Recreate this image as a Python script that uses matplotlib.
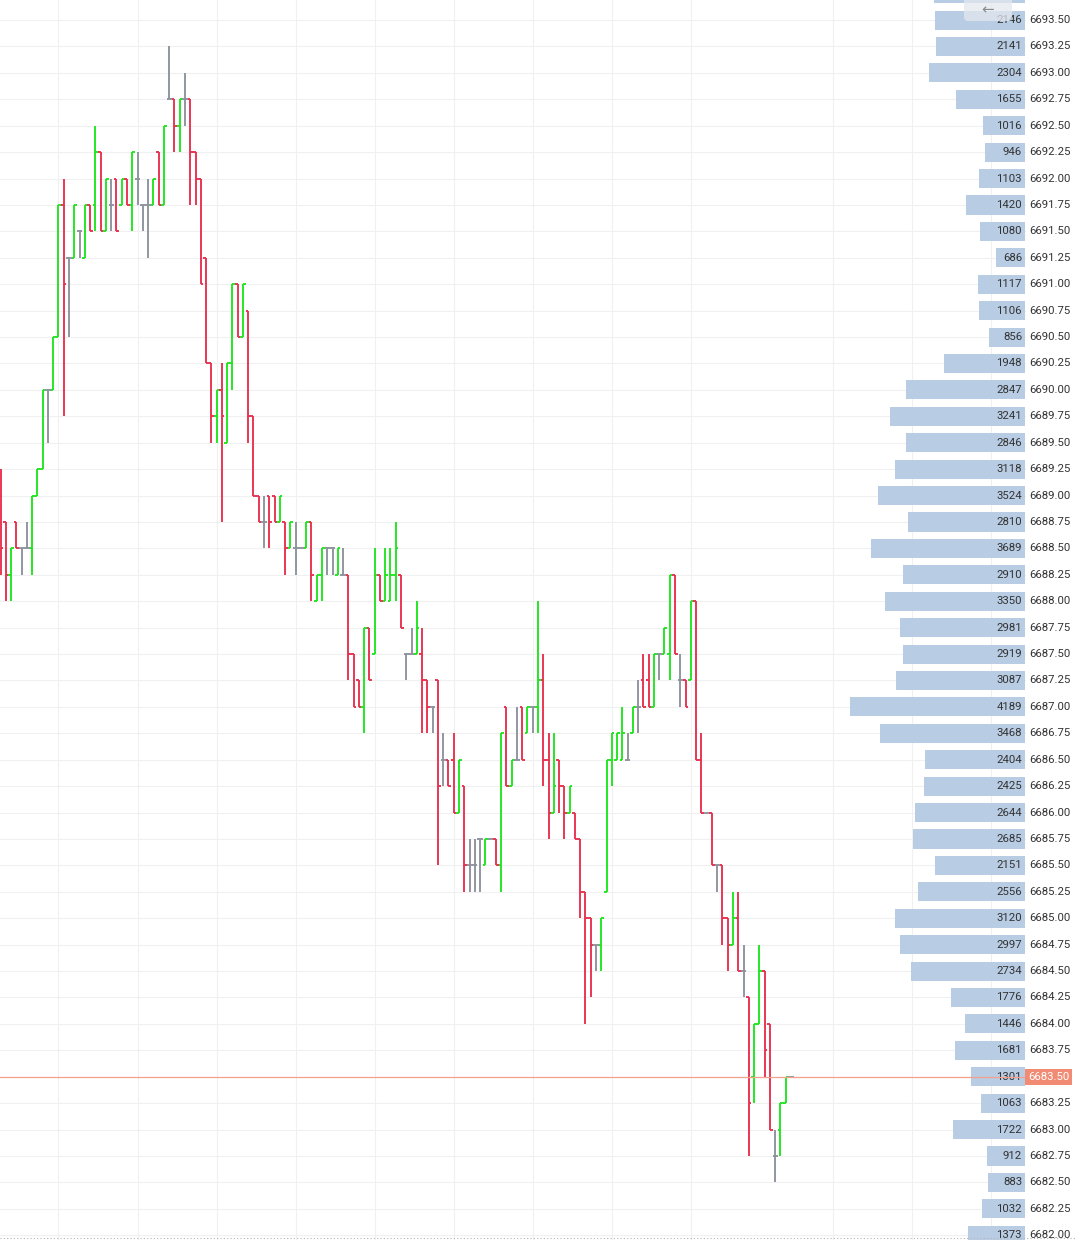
import matplotlib.pyplot as plt
from matplotlib.patches import FancyBboxPatch

# OHLC bars (one per column, oldest first)
opens = [6689.0, 6688.75, 6688.25, 6688.75, 6688.5, 6688.5, 6688.5, 6689.0, 6689.25, 6690.0,
         6690.0, 6690.5, 6691.75, 6691.25, 6691.25, 6691.5, 6691.25, 6691.75, 6691.75, 6692.25,
         6691.5, 6691.75, 6692.0, 6691.75, 6692.0, 6691.75, 6692.0, 6691.75, 6691.75, 6691.75,
         6692.25, 6691.75, 6692.75, 6692.75, 6692.5, 6692.75, 6692.75, 6692.25, 6692.0, 6691.25,
         6690.25, 6689.75, 6690.0, 6689.5, 6690.25, 6691.0, 6690.5, 6690.75, 6689.75, 6689.0,
         6688.75, 6689.0, 6689.0, 6688.75, 6688.75, 6688.5, 6688.5, 6688.5, 6688.5, 6688.75,
         6688.0, 6688.25, 6688.5, 6688.5, 6688.25, 6688.25, 6688.25, 6687.5, 6687.25, 6687.0,
         6687.75, 6687.5, 6688.25, 6688.0, 6688.0, 6688.25, 6688.25, 6687.5, 6687.5, 6687.5,
         6687.5, 6687.25, 6687.0, 6687.25, 6686.5, 6686.5, 6686.5, 6686.0, 6686.25, 6685.5,
         6685.5, 6685.75, 6685.5, 6685.75, 6685.75, 6685.5, 6687.0, 6686.25, 6686.5, 6687.0,
         6686.75, 6687.0, 6687.0, 6687.25, 6686.5, 6686.0, 6686.5, 6686.25, 6686.0, 6686.0,
         6685.75, 6685.25, 6685.0, 6684.75, 6684.75, 6685.25, 6686.5, 6686.5, 6686.5, 6686.5,
         6686.75, 6687.0, 6687.25, 6687.25, 6687.0, 6687.5, 6687.5, 6687.5, 6688.25, 6687.25,
         6687.25, 6687.25, 6688.0, 6686.5, 6686.0, 6686.0, 6685.5, 6685.5, 6685.0, 6684.75,
         6685.0, 6684.5, 6684.25, 6683.5, 6684.0, 6684.5, 6684.0, 6682.75, 6683.0, 6683.25,
         6683.5]
highs = [6689.25, 6688.75, 6688.5, 6688.75, 6688.5, 6688.75, 6689.0, 6689.25, 6690.0, 6690.0,
         6690.5, 6691.75, 6692.0, 6691.25, 6691.75, 6691.5, 6691.75, 6691.75, 6692.5, 6692.25,
         6692.0, 6692.0, 6692.0, 6692.0, 6692.0, 6692.25, 6692.25, 6691.75, 6692.0, 6692.0,
         6692.25, 6692.5, 6693.25, 6692.75, 6692.75, 6693.0, 6692.75, 6692.25, 6692.0, 6691.25,
         6690.25, 6690.0, 6690.25, 6690.25, 6691.0, 6691.0, 6691.0, 6690.75, 6689.75, 6689.0,
         6689.0, 6689.0, 6689.0, 6689.0, 6688.75, 6688.75, 6688.75, 6688.5, 6688.75, 6688.75,
         6688.25, 6688.5, 6688.5, 6688.5, 6688.5, 6688.5, 6688.25, 6687.5, 6687.25, 6687.75,
         6687.75, 6688.5, 6688.25, 6688.5, 6688.5, 6688.75, 6688.25, 6687.5, 6687.75, 6688.0,
         6687.75, 6687.25, 6687.0, 6687.25, 6686.75, 6686.5, 6686.75, 6686.5, 6686.25, 6685.75,
         6685.75, 6685.75, 6685.75, 6685.75, 6685.75, 6686.75, 6687.0, 6686.5, 6687.0, 6687.0,
         6687.0, 6687.0, 6688.0, 6687.5, 6686.75, 6686.75, 6686.5, 6686.25, 6686.25, 6686.0,
         6685.75, 6685.25, 6685.0, 6684.75, 6685.0, 6686.5, 6686.75, 6686.75, 6687.0, 6686.75,
         6687.0, 6687.25, 6687.5, 6687.5, 6687.5, 6687.5, 6687.75, 6688.25, 6688.25, 6687.5,
         6687.25, 6688.0, 6688.0, 6686.75, 6686.0, 6686.0, 6685.5, 6685.5, 6685.0, 6685.25,
         6685.25, 6684.75, 6684.25, 6684.0, 6684.75, 6684.5, 6684.0, 6683.0, 6683.25, 6683.5,
         6683.5]
lows = [6688.25, 6688.0, 6688.0, 6688.5, 6688.25, 6688.5, 6688.25, 6689.0, 6689.25, 6689.5,
        6690.0, 6690.5, 6689.75, 6690.5, 6691.25, 6691.25, 6691.25, 6691.5, 6691.5, 6691.5,
        6691.5, 6691.5, 6691.5, 6691.75, 6691.75, 6691.5, 6691.75, 6691.5, 6691.25, 6691.75,
        6691.75, 6691.75, 6692.75, 6692.25, 6692.25, 6692.5, 6691.75, 6691.75, 6691.0, 6690.25,
        6689.5, 6689.5, 6688.75, 6689.5, 6690.0, 6690.5, 6690.5, 6689.5, 6689.0, 6688.75,
        6688.5, 6688.5, 6688.75, 6688.75, 6688.25, 6688.5, 6688.25, 6688.5, 6688.5, 6688.0,
        6688.0, 6688.0, 6688.25, 6688.25, 6688.25, 6688.25, 6687.25, 6687.0, 6687.0, 6686.75,
        6687.25, 6687.5, 6688.0, 6688.0, 6688.0, 6688.0, 6687.75, 6687.25, 6687.5, 6687.5,
        6686.75, 6686.75, 6686.75, 6685.5, 6686.25, 6686.25, 6686.0, 6686.0, 6685.25, 6685.25,
        6685.25, 6685.25, 6685.5, 6685.75, 6685.5, 6685.25, 6686.25, 6686.25, 6686.5, 6686.5,
        6686.75, 6686.75, 6686.75, 6686.25, 6685.75, 6686.0, 6686.0, 6685.75, 6686.0, 6685.75,
        6685.0, 6684.0, 6684.25, 6684.5, 6684.5, 6685.25, 6686.25, 6686.5, 6686.5, 6686.5,
        6686.75, 6686.75, 6687.0, 6687.0, 6687.0, 6687.25, 6687.5, 6687.25, 6687.5, 6687.0,
        6687.0, 6687.25, 6686.5, 6686.0, 6686.0, 6685.5, 6685.25, 6684.75, 6684.5, 6684.75,
        6684.5, 6684.25, 6682.75, 6683.25, 6684.0, 6683.5, 6683.0, 6682.5, 6682.75, 6683.25,
        6683.5]
closes = [6688.5, 6688.25, 6688.5, 6688.5, 6688.5, 6688.5, 6689.0, 6689.25, 6690.0, 6690.0,
          6690.5, 6691.75, 6691.0, 6691.25, 6691.75, 6691.5, 6691.75, 6691.5, 6692.25, 6691.5,
          6692.0, 6691.75, 6691.5, 6692.0, 6691.75, 6692.25, 6692.0, 6691.75, 6691.75, 6692.0,
          6691.75, 6692.5, 6692.75, 6692.5, 6692.75, 6692.75, 6692.25, 6692.0, 6691.0, 6690.25,
          6689.75, 6690.0, 6689.75, 6690.25, 6691.0, 6690.5, 6691.0, 6689.75, 6689.0, 6688.75,
          6688.75, 6688.75, 6688.75, 6689.0, 6688.5, 6688.75, 6688.5, 6688.5, 6688.75, 6688.25,
          6688.25, 6688.5, 6688.5, 6688.5, 6688.5, 6688.25, 6687.5, 6687.0, 6687.0, 6687.75,
          6687.25, 6688.25, 6688.0, 6688.25, 6688.25, 6688.5, 6687.75, 6687.5, 6687.5, 6687.75,
          6687.25, 6687.0, 6687.0, 6686.25, 6686.5, 6686.25, 6686.0, 6686.5, 6685.5, 6685.5,
          6685.5, 6685.75, 6685.75, 6685.75, 6685.5, 6686.75, 6686.25, 6686.5, 6686.5, 6686.5,
          6687.0, 6687.0, 6687.25, 6686.5, 6686.0, 6686.25, 6686.25, 6686.0, 6686.25, 6685.75,
          6685.25, 6685.0, 6684.75, 6684.75, 6685.0, 6686.5, 6686.75, 6686.75, 6686.75, 6686.5,
          6687.0, 6687.0, 6687.0, 6687.0, 6687.5, 6687.5, 6687.75, 6688.25, 6687.5, 6687.25,
          6687.0, 6688.0, 6686.5, 6686.0, 6686.0, 6685.5, 6685.5, 6685.0, 6684.75, 6685.0,
          6684.5, 6684.5, 6683.25, 6684.0, 6684.5, 6683.75, 6683.0, 6682.75, 6683.25, 6683.5,
          6683.5]

# volume profile on the right
profile_prices = [6693.75, 6693.5, 6693.25, 6693.0, 6692.75, 6692.5, 6692.25, 6692.0,
                  6691.75, 6691.5, 6691.25, 6691.0, 6690.75, 6690.5, 6690.25, 6690.0,
                  6689.75, 6689.5, 6689.25, 6689.0, 6688.75, 6688.5, 6688.25, 6688.0,
                  6687.75, 6687.5, 6687.25, 6687.0, 6686.75, 6686.5, 6686.25, 6686.0,
                  6685.75, 6685.5, 6685.25, 6685.0, 6684.75, 6684.5, 6684.25, 6684.0,
                  6683.75, 6683.5, 6683.25, 6683.0, 6682.75, 6682.5, 6682.25, 6682.0]
profile_volumes = [2180, 2146, 2141, 2304, 1655, 1016, 946, 1103,
                   1420, 1080, 686, 1117, 1106, 856, 1948, 2847,
                   3241, 2846, 3118, 3524, 2810, 3689, 2910, 3350,
                   2981, 2919, 3087, 4189, 3468, 2404, 2425, 2644,
                   2685, 2151, 2556, 3120, 2997, 2734, 1776, 1446,
                   1681, 1301, 1063, 1722, 912, 883, 1032, 1373]
last_price = 6683.50

# vertical grid positions (bar index)
time_grid = [11, 26, 41, 56, 71, 86, 101, 116, 131, 158, 173, 188]

up_color = '#1fe51f'
down_color = '#e8304f'
flat_color = '#8d929c'
grid_color = '#f0f0f0'

y_bottom, y_top = 6681.955, 6693.69

fig = plt.figure(figsize=(10.75, 12.4), dpi=100)

ax = fig.add_axes([0, 0, 1, 1])
ax.set_xlim(-0.1, 203.9)
ax.set_ylim(y_bottom, y_top)
ax.axis('off')

for p in profile_prices:
    ax.axhline(p, xmax=1025 / 1075, color=grid_color, lw=0.8, zorder=0)
for g in time_grid:
    ax.axvline(g, color=grid_color, lw=0.8, zorder=0)

x = list(range(len(opens)))
colors = []
for o, c in zip(opens, closes):
    if c > o:
        colors.append(up_color)
    elif c < o:
        colors.append(down_color)
    else:
        colors.append(flat_color)

ax.vlines(x, lows, highs, colors=colors, lw=1.35, zorder=3)
ax.hlines(opens, [i - 0.5 for i in x], x, colors=colors, lw=1.35, zorder=3)
ax.hlines(closes, x, [i + 0.5 for i in x], colors=colors, lw=1.35, zorder=3)

# volume profile axes, x in pixels
ax2 = fig.add_axes([0, 0, 1, 1])
ax2.set_xlim(0, 1075)
ax2.set_ylim(y_bottom, y_top)
ax2.axis('off')
ax2.patch.set_alpha(0)

px_per_vol = 175 / 4189
right_edge = 1025
widths = [v * px_per_vol for v in profile_volumes]
lefts = [right_edge - w for w in widths]
ax2.barh(profile_prices, widths, left=lefts, height=0.18, color='#b8cce4', zorder=2)

for p, v in zip(profile_prices, profile_volumes):
    if p > y_top - 0.08:
        continue  # row is only partly visible, its labels sit above the top edge
    ax2.text(1022, p, str(v), ha='right', va='center', fontsize=8.2,
             family='Roboto', color='#333333', zorder=4)
    if p != last_price:
        ax2.text(1029, p, f'{p:.2f}', ha='left', va='center', fontsize=8.2,
                 family='Roboto', color='#333333', zorder=4)

ax2.axhline(last_price, xmax=1026 / 1075, color='#f4a08c', lw=0.9, zorder=5)
ax2.text(1048.5, last_price, f'{last_price:.2f}', ha='center', va='center',
         fontsize=8.2, family='Roboto', color='white', zorder=6,
         bbox=dict(boxstyle='square,pad=0.25', fc='#f28b74', ec='none'))

# decorations in pixel coordinates
ax3 = fig.add_axes([0, 0, 1, 1])
ax3.set_xlim(0, 1075)
ax3.set_ylim(1240, 0)
ax3.axis('off')
ax3.patch.set_alpha(0)
ax3.add_patch(FancyBboxPatch((964, -10), 48, 31, boxstyle='round,pad=0,rounding_size=4',
                             fc='#e3e7ee', ec='none', alpha=0.75, zorder=3))
ax3.text(988, 10, '\u2190', ha='center', va='center', fontsize=11,
         color='#8a8a8a', zorder=4)
ax3.plot([0, 1075], [1238, 1238], ls=(0, (1, 2)), color='#b5b5b5', lw=0.8)

plt.savefig('out.png', dpi=100)
